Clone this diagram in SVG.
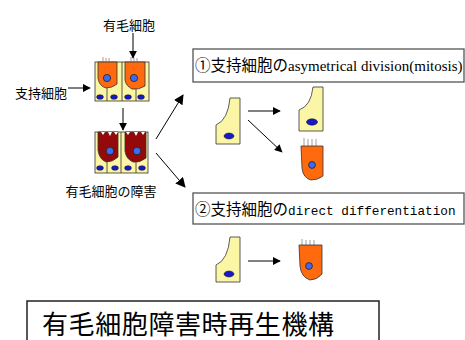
<svg xmlns="http://www.w3.org/2000/svg" width="465" height="340" viewBox="0 0 465 340">
  <defs>
    <marker id="arrow" viewBox="0 0 10 10" refX="9" refY="5" markerWidth="8" markerHeight="8" markerUnits="userSpaceOnUse" orient="auto">
      <path d="M0,0 L10,5 L0,10 Z" fill="#000"/>
    </marker>
    <marker id="arrowL" viewBox="0 0 10 10" refX="9" refY="5" markerWidth="10" markerHeight="10" markerUnits="userSpaceOnUse" orient="auto">
      <path d="M0,0 L10,5 L0,10 Z" fill="#000"/>
    </marker>
  </defs>
  <style>
    .jp { font-family: "Noto Sans CJK JP", "Noto Sans CJK SC", sans-serif; fill: #000; }
    .serif { font-family: "Liberation Serif", "Noto Sans CJK JP", serif; }
    .mono { font-family: "Liberation Mono", "Noto Sans CJK JP", monospace; }
    .sc { fill: #FBF6A6; stroke: #333; stroke-width: 0.8; }
    .hc { fill: #FF6A0E; stroke: #333; stroke-width: 0.8; }
    .dhc { fill: #940A0A; stroke: #333; stroke-width: 0.8; }
    .nuc { fill: #3D6BF0; stroke: #222; stroke-width: 0.8; }
    .snuc { fill: #1818C8; stroke: #111; stroke-width: 0.5; }
    .hair { stroke: #777; stroke-width: 0.7; fill: none; }
    .line { stroke: #000; stroke-width: 1; fill: none; }
    .lbox { fill: #fff; stroke: #555; stroke-width: 1.3; }
    .mbox { fill: #fff; stroke: #222; stroke-width: 1.5; }
  </style>

  <rect width="465" height="340" fill="#fff"/>

  <!-- normal epithelium: two hair cells over four supporting cells -->
  <g id="normal-epithelium">
    <rect class="sc" x="95" y="62" width="54" height="39"/>
    <path class="sc" d="M107,85 V101 M122,62 V101 M136,87 V101" fill="none"/>
    <path class="hc" d="M98,62 H117 V84 Q112,88 106,88 Q99,86 98,78 Z"/>
    <path class="hc" d="M125,62 H145 V86 Q139,90 132,89 Q126,86 125,80 Z"/>
    <circle class="nuc" cx="107" cy="78" r="3.6"/>
    <circle class="nuc" cx="134" cy="78" r="3.6"/>
    <path class="hair" d="M103,62 V57 M106,62 V58 M109,62 V58 M131,62 V57 M134,62 V58 M137,62 V58"/>
    <ellipse class="snuc" cx="100" cy="97" rx="3.4" ry="2.3"/>
    <ellipse class="snuc" cx="114" cy="97" rx="3.4" ry="2.3"/>
    <ellipse class="snuc" cx="128" cy="97" rx="3.4" ry="2.3"/>
    <ellipse class="snuc" cx="141" cy="97" rx="3.4" ry="2.3"/>
  </g>

  <!-- damaged epithelium: degenerating hair cells -->
  <g id="damaged-epithelium">
    <rect class="sc" x="95" y="132" width="53" height="41"/>
    <path class="sc" d="M107,160 V173 M121,132 V173 M136,161 V173" fill="none"/>
    <path class="dhc" d="M98,132 H118 V157 Q113,162 106,162 Q99,159 98,150 Z"/>
    <path class="dhc" d="M125,132 H146 V158 Q140,163 133,162 Q126,159 125,151 Z"/>
    <path d="M101,132 L103,135 L105,132 M108,132 L110,136 L112,132 M114,132 L116,135 L118,132 M126,132 L128,135 L130,132 M134,132 L136,136 L138,132 M141,132 L143,135 L145,132" fill="#fff" stroke="none"/>
    <circle class="nuc" cx="110" cy="151" r="3.8"/>
    <circle class="nuc" cx="137" cy="151" r="3.8"/>
    <ellipse class="snuc" cx="100" cy="168" rx="3.4" ry="2.3"/>
    <ellipse class="snuc" cx="115" cy="168" rx="3.4" ry="2.3"/>
    <ellipse class="snuc" cx="128" cy="168" rx="3.4" ry="2.3"/>
    <ellipse class="snuc" cx="142" cy="168" rx="3.4" ry="2.3"/>
  </g>

  <!-- labels -->
  <g id="label-hair-cell"><text class="jp" x="129" y="30" font-size="13" text-anchor="middle">有毛細胞</text></g>
  <g id="label-supporting-cell"><text class="jp" x="15" y="98" font-size="13">支持細胞</text></g>
  <g id="label-damage"><text class="jp" x="111" y="196" font-size="13" text-anchor="middle">有毛細胞の障害</text></g>

  <!-- route 1: asymmetric division -->
  <g id="route1-box">
    <rect class="lbox" x="193" y="49" width="271" height="33"/>
    <text class="jp" x="195" y="71" font-size="15.5">①支持細胞の<tspan class="serif" font-size="15">asymetrical division(mitosis)</tspan></text>
  </g>
  <g id="route1-source">
    <path class="sc" d="M230,98 H240 V144 H216 V125 Q228,120 230,98 Z"/>
    <ellipse class="snuc" cx="229" cy="136" rx="5" ry="3"/>
  </g>
  <g id="route1-supporting">
    <path class="sc" d="M313,87 H323 V131 H299 V110 Q311,106 313,87 Z"/>
    <ellipse class="snuc" cx="312" cy="122" rx="5.5" ry="3.2"/>
  </g>
  <g id="route1-hair">
    <path class="hair" d="M304,146 V138 M308,146 V139 M312,146 V139 M316,146 V139"/>
    <path class="hc" d="M301,146 H323 V176 Q318,180 311,180 Q303,178 302,168 Z"/>
    <circle class="nuc" cx="312" cy="165" r="3.4"/>
  </g>

  <!-- route 2: direct differentiation -->
  <g id="route2-box">
    <rect class="lbox" x="193" y="193" width="271" height="31"/>
    <text class="jp" x="195" y="215" font-size="15.5">②支持細胞の<tspan class="mono" font-size="12.7">direct differentiation</tspan></text>
  </g>
  <g id="route2-source">
    <path class="sc" d="M230,237 H240 V282 H216 V265 Q228,260 230,237 Z"/>
    <ellipse class="snuc" cx="229" cy="274" rx="5" ry="3"/>
  </g>
  <g id="route2-hair">
    <path class="hair" d="M302,245 V239 M306,245 V240 M310,245 V240 M314,245 V240"/>
    <path class="hc" d="M299,245 H322 V274 Q317,280 310,280 Q301,277 300,266 Z"/>
    <circle class="nuc" cx="309" cy="266" r="3.4"/>
  </g>

  <!-- title -->
  <g id="title">
    <rect class="mbox" x="27" y="301" width="352" height="50"/>
    <text class="jp" x="42" y="334" font-size="26" letter-spacing="0.6">有毛細胞障害時再生機構</text>
  </g>

  <!-- connectors -->
  <g id="connectors">
    <line class="line" x1="133" y1="33" x2="133" y2="58" marker-end="url(#arrow)"/>
    <line class="line" x1="68" y1="88" x2="90" y2="88" marker-end="url(#arrow)"/>
    <line class="line" x1="123" y1="108" x2="123" y2="130" marker-end="url(#arrow)"/>
    <line class="line" x1="156" y1="139" x2="183" y2="95" marker-end="url(#arrowL)"/>
    <line class="line" x1="156" y1="153" x2="185" y2="187" marker-end="url(#arrowL)"/>
    <line class="line" x1="248" y1="111" x2="280" y2="111" marker-end="url(#arrow)"/>
    <line class="line" x1="248" y1="120" x2="282" y2="152" marker-end="url(#arrow)"/>
    <line class="line" x1="248" y1="261" x2="280" y2="261" marker-end="url(#arrow)"/>
  </g>
</svg>
